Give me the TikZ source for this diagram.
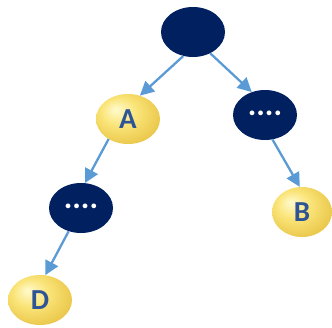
\documentclass[tikz,border=0pt]{standalone}
\usepackage{fontspec}
\setmainfont{Carlito}
\usetikzlibrary{shapes.geometric,arrows.meta}
\definecolor{navy}{RGB}{0,32,96}
\definecolor{arrowblue}{RGB}{91,155,213}
\definecolor{letterblue}{RGB}{46,84,150}
\definecolor{goldA}{RGB}{255,250,205}
\definecolor{goldB}{RGB}{250,228,120}
\definecolor{goldC}{RGB}{232,196,70}
\definecolor{goldD}{RGB}{190,150,40}
\pgfdeclareradialshading{goldball}{\pgfpoint{-10bp}{10bp}}{%
  color(0bp)=(goldA); color(14bp)=(goldB); color(32bp)=(goldC); color(44bp)=(goldD); color(50bp)=(goldD)}
\tikzset{
  darknode/.style={ellipse, fill=navy, minimum width=64pt, minimum height=50pt, inner sep=0pt,
    text=white, font=\bfseries\fontsize{32}{32}\selectfont},
  goldnode/.style={ellipse, shading=goldball, minimum width=64pt, minimum height=50pt, inner sep=0pt,
    text=letterblue, font=\bfseries\fontsize{29}{29}\selectfont},
  link/.style={draw=arrowblue, line width=2.3pt, -{Triangle[length=14pt, width=14pt]}}
}
\begin{document}
\begin{tikzpicture}[x=1pt,y=-1pt]
\useasboundingbox (0,0) rectangle (332,327);
\node[darknode] (root) at (193,32) {};
\node[goldnode] (A) at (128,119) {A};
\node[darknode] (R) at (265,115) {\raisebox{4pt}{....}};
\node[darknode] (L) at (81,208) {\raisebox{4pt}{....}};
\node[goldnode, minimum width=60pt] (B) at (302,212) {B};
\node[goldnode] (D) at (40,300) {D};
\draw[link] (root.248) -- (A.63);
\draw[link] (root.309) -- (R.120);
\draw[link] (A.226) -- (L.81);
\draw[link] (R.287) -- (B.95);
\draw[link] (L.242) -- (D.78);
\end{tikzpicture}
\end{document}
